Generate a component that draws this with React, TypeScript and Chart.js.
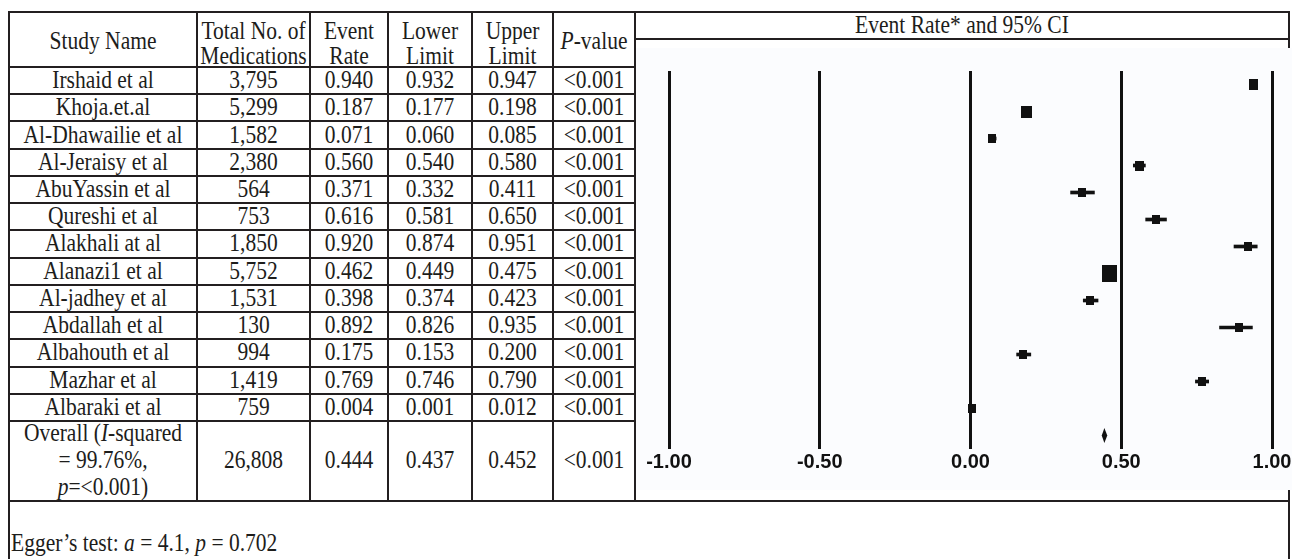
import React, { useEffect, useRef } from "react";
import { Chart, registerables } from "chart.js";

Chart.register(...registerables);

// ---------- data ----------
const studyNames = [
  "Irshaid et al",
  "Khoja.et.al",
  "Al-Dhawailie et al",
  "Al-Jeraisy et al",
  "AbuYassin et al",
  "Qureshi et al",
  "Alakhali at al",
  "Alanazi1 et al",
  "Al-jadhey et al",
  "Abdallah et al",
  "Albahouth et al",
  "Mazhar et al",
  "Albaraki et al",
];
const totalMedications = [3795, 5299, 1582, 2380, 564, 753, 1850, 5752, 1531, 130, 994, 1419, 759];
const eventRates = [0.94, 0.187, 0.071, 0.56, 0.371, 0.616, 0.92, 0.462, 0.398, 0.892, 0.175, 0.769, 0.004];
const lowerLimits = [0.932, 0.177, 0.06, 0.54, 0.332, 0.581, 0.874, 0.449, 0.374, 0.826, 0.153, 0.746, 0.001];
const upperLimits = [0.947, 0.198, 0.085, 0.58, 0.411, 0.65, 0.951, 0.475, 0.423, 0.935, 0.2, 0.79, 0.012];
const pValues = ["<0.001", "<0.001", "<0.001", "<0.001", "<0.001", "<0.001", "<0.001", "<0.001", "<0.001", "<0.001", "<0.001", "<0.001", "<0.001"];
// relative study weights
const boxWeights = [9, 10.5, 7.5, 8.5, 7.5, 7.5, 8, 14.5, 8, 7.5, 7.5, 8, 7.5];

const overallTotal = 26808;
const overallRate = 0.444;
const overallLower = 0.437;
const overallUpper = 0.452;
const overallP = "<0.001";

const axisTicks = [-1, -0.5, 0, 0.5, 1];

// ---------- layout (table geometry) ----------
const COLS = [9, 197, 310, 388, 472, 553, 635];
const RIGHT = 1289;
const TOP = 12;
const HEAD_BOTTOM = 67;
const ROW_H = 27.23;
const TABLE_BOTTOM = 501;
const LINE = "#231f20";
const INK = "#1d1d1b";
const FONT = '"Liberation Serif", "Times New Roman", serif';
const FS = 21.5;

const rowTop = (i: number) => HEAD_BOTTOM + i * ROW_H;

function HLine({ y, x0, x1 }: { y: number; x0: number; x1: number }) {
  return (
    <div style={{ position: "absolute", left: x0 - 1, top: y - 1, width: x1 - x0 + 2, height: 2, background: LINE }} />
  );
}
function VLine({ x, y0, y1 }: { x: number; y0: number; y1: number }) {
  return (
    <div style={{ position: "absolute", left: x - 1, top: y0 - 1, width: 2, height: y1 - y0 + 2, background: LINE }} />
  );
}
function Txt({ x0, x1, cy, children, align = "center" }: any) {
  return (
    <div
      style={{
        position: "absolute",
        left: x0,
        width: x1 - x0,
        top: cy - 13.5,
        height: 27,
        lineHeight: "27px",
        textAlign: align,
        whiteSpace: "nowrap",
        fontFamily: FONT,
        fontSize: FS,
        color: INK,
        transform: "scaleY(1.14)",
        transformOrigin: "50% 50%",
      }}
    >
      {children}
    </div>
  );
}

function makeBox(w: number) {
  const c = document.createElement("canvas");
  c.width = Math.round(w);
  c.height = Math.round(w * 1.18);
  const g = c.getContext("2d")!;
  g.fillStyle = "#111";
  g.fillRect(0, 0, c.width, c.height);
  return c;
}

function ForestCanvas() {
  const ref = useRef<HTMLCanvasElement>(null);
  useEffect(() => {
    if (!ref.current) return;
    const labels = [...studyNames, "Overall"];
    const boxes = boxWeights.map((w) => makeBox(w));
    const diamondPlugin = {
      id: "overallDiamond",
      afterDatasetsDraw(chart: any) {
        const { ctx } = chart;
        const xs = chart.scales.x;
        const ys = chart.scales.y;
        const yc = ys.getPixelForValue(labels.length - 1);
        const xl = xs.getPixelForValue(overallLower);
        const xr = xs.getPixelForValue(overallUpper);
        const xc = xs.getPixelForValue(overallRate);
        const half = 7.5;
        ctx.save();
        ctx.fillStyle = "#111";
        ctx.beginPath();
        ctx.moveTo(xc, yc - half);
        ctx.lineTo(xr + 0.5, yc);
        ctx.lineTo(xc, yc + half);
        ctx.lineTo(xl - 0.5, yc);
        ctx.closePath();
        ctx.fill();
        ctx.restore();
      },
    };
    const chart = new Chart(ref.current, {
      type: "bar",
      data: {
        labels,
        datasets: [
          {
            type: "bar",
            label: "95% CI",
            data: [...lowerLimits.map((l, i) => [l, upperLimits[i]]), null] as any,
            backgroundColor: "#111",
            borderWidth: 0,
            barThickness: 3,
            indexAxis: "y",
            order: 2,
          } as any,
          {
            type: "line",
            label: "Event rate",
            data: [...eventRates, null] as any,
            showLine: false,
            pointStyle: boxes as any,
            pointRadius: 5,
            pointHoverRadius: 5,
            indexAxis: "y",
            borderColor: "#111",
            backgroundColor: "#111",
            order: 1,
          } as any,
        ],
      },
      options: {
        indexAxis: "y",
        animation: false,
        responsive: false,
        events: [],
        layout: { padding: { left: 33, right: 44, top: 23, bottom: 15 } },
        plugins: { legend: { display: false }, tooltip: { enabled: false } },
        scales: {
          x: {
            type: "linear",
            min: -1,
            max: 1,
            position: "bottom",
            grid: { color: "#111", lineWidth: 3, drawTicks: false },
            border: { display: false },
            afterBuildTicks: (s: any) => {
              s.ticks = axisTicks.map((v) => ({ value: v }));
            },
            ticks: {
              color: "#111",
              padding: 1,
              font: { family: '"Liberation Sans", Arial, sans-serif', weight: "bold", size: 20 },
              callback: (v: any) => Number(v).toFixed(2),
            },
          },
          y: { type: "category", display: false, offset: true, grid: { display: false } },
        },
      } as any,
      plugins: [diamondPlugin],
    });
    return () => chart.destroy();
  }, []);
  return (
    <div style={{ position: "absolute", left: 636, top: 48, width: 680, height: 442, background: "#fbfcfe" }}>
      <canvas ref={ref} width={680} height={442} style={{ display: "block", width: 680, height: 442 }} />
    </div>
  );
}

export default function App() {
  const headerTwo = [
    ["Total No. of", "Medications"],
    ["Event", "Rate"],
    ["Lower", "Limit"],
    ["Upper", "Limit"],
  ];
  const overallTop = rowTop(13);
  const overallMid = (overallTop + TABLE_BOTTOM) / 2;
  return (
    <div style={{ position: "absolute", left: 0, top: 0, width: 1292, height: 559, overflow: "hidden", background: "#fff" }}>
      {/* borders */}
      <HLine y={TOP} x0={COLS[0]} x1={RIGHT} />
      {Array.from({ length: 14 }, (_, i) => (
        <HLine key={"r" + i} y={Math.round(rowTop(i))} x0={COLS[0]} x1={COLS[6]} />
      ))}
      <HLine y={39} x0={COLS[6]} x1={RIGHT} />
      <HLine y={TABLE_BOTTOM} x0={COLS[0]} x1={RIGHT} />
      <VLine x={COLS[0]} y0={TOP} y1={559} />
      {COLS.slice(1).map((x) => (
        <VLine key={"c" + x} x={x} y0={TOP} y1={TABLE_BOTTOM} />
      ))}
      <VLine x={RIGHT} y0={TOP} y1={559} />

      {/* header */}
      <Txt x0={COLS[0]} x1={COLS[1]} cy={41}>Study Name</Txt>
      {headerTwo.map((h, k) => (
        <React.Fragment key={"h" + k}>
          <Txt x0={COLS[k + 1]} x1={COLS[k + 2]} cy={31}>{h[0]}</Txt>
          <Txt x0={COLS[k + 1]} x1={COLS[k + 2]} cy={56}>{h[1]}</Txt>
        </React.Fragment>
      ))}
      <Txt x0={COLS[5]} x1={COLS[6]} cy={41}>
        <i>P</i>-value
      </Txt>
      <Txt x0={COLS[6]} x1={RIGHT} cy={25}>Event Rate* and 95% CI</Txt>

      {/* rows */}
      {studyNames.map((name, i) => {
        const cy = rowTop(i) + ROW_H / 2;
        const cells = [
          name,
          totalMedications[i].toLocaleString("en-US"),
          eventRates[i].toFixed(3),
          lowerLimits[i].toFixed(3),
          upperLimits[i].toFixed(3),
          pValues[i],
        ];
        return cells.map((c, k) => (
          <Txt key={"t" + i + "_" + k} x0={COLS[k]} x1={COLS[k + 1]} cy={cy}>
            {c}
          </Txt>
        ));
      })}

      {/* overall */}
      <Txt x0={COLS[0]} x1={COLS[1]} cy={overallMid - 27}>
        Overall (<i>I</i>-squared
      </Txt>
      <Txt x0={COLS[0]} x1={COLS[1]} cy={overallMid}>= 99.76%,</Txt>
      <Txt x0={COLS[0]} x1={COLS[1]} cy={overallMid + 27}>
        <i>p</i>=&lt;0.001)
      </Txt>
      {[overallTotal.toLocaleString("en-US"), overallRate.toFixed(3), overallLower.toFixed(3), overallUpper.toFixed(3), overallP].map(
        (c, k) => (
          <Txt key={"o" + k} x0={COLS[k + 1]} x1={COLS[k + 2]} cy={overallMid}>
            {c}
          </Txt>
        )
      )}

      {/* footnote */}
      <Txt x0={COLS[0] + 2} x1={700} cy={543} align="left">
        Egger’s test: <i>a</i> = 4.1, <i>p</i> = 0.702
      </Txt>

      <ForestCanvas />
    </div>
  );
}
